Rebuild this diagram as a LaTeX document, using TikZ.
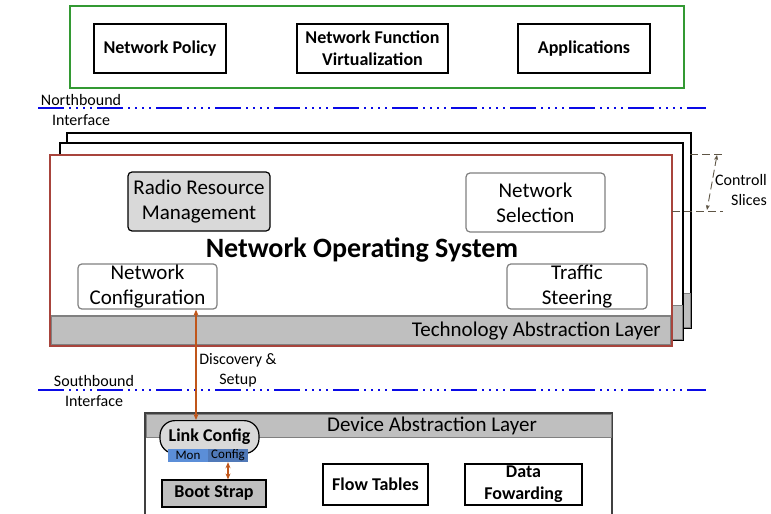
\documentclass[tikz,border=0pt]{standalone}
\usepackage{fontspec}
\setmainfont{Carlito}
\usetikzlibrary{arrows.meta}

\definecolor{appGreen}{HTML}{339933}
\definecolor{nosRed}{HTML}{A8443C}
\definecolor{linkOrange}{HTML}{C0561A}
\definecolor{ifBlue}{HTML}{0A0AE6}
\definecolor{barGray}{HTML}{BFBFBF}
\definecolor{boxGray}{HTML}{D9D9D9}
\definecolor{monBlue}{HTML}{5B8ED8}
\definecolor{cfgBlue}{HTML}{5079B8}
\definecolor{sliceBrown}{HTML}{5E5545}

\def \fsBig {\fontsize{18}{22}\selectfont}
\def \fsReg {\fontsize{21}{25}\selectfont}
\def \fsSmall {\fontsize{16}{20}\selectfont}

\tikzset{
  appbox/.style={draw, line width=1.2pt, minimum width=132pt, minimum height=49pt,
    align=center, inner sep=1pt, font=\bfseries\fsBig},
  nosbox/.style={draw=gray, line width=1.2pt, rounded corners=4pt, fill=white,
    minimum width=139pt, minimum height=59pt, align=center, inner sep=1pt, font=\fsReg},
  devbox/.style={draw, line width=1.2pt, minimum width=105pt, minimum height=41pt,
    align=center, inner sep=1pt, font=\bfseries\fsBig},
  ifline/.style={ifBlue, line width=2.6pt,
    dash pattern=on 26pt off 5pt on 2pt off 5pt on 2pt off 5pt on 2pt off 5pt on 2pt off 5pt},
  biarrow/.style={linkOrange, line width=1.4pt, {Stealth[length=6pt,width=5pt]}-{Stealth[length=6pt,width=5pt]}},
  sliceline/.style={sliceBrown, line width=0.9pt, dash pattern=on 8pt off 4pt},
  lbl/.style={align=center, inner sep=0pt, font=\fsSmall}
}

\begin{document}
\begin{tikzpicture}[x=1pt,y=-1pt]
\useasboundingbox (0,0) rectangle (771,514);

% applications on top
\draw[appGreen, line width=1.4pt] (70,6) rectangle (684,88);
\node[appbox] (policy) at (160,48.5) {Network Policy};
\node[appbox, minimum width=151pt] (nfv) at (372.5,48.5) {Network Function\\Virtualization};
\node[appbox] (apps) at (584,48.5) {Applications};

% northbound interface
\draw[ifline] (38,108) -- (706,108);
\node[lbl] (north) at (81,110) {Northbound\\Interface};

% control slices, back to front
\filldraw[fill=white, line width=1.4pt] (67,133) rectangle (691,328);
\filldraw[fill=barGray, draw=gray] (67,293) rectangle (690,327);
\filldraw[fill=white, line width=1.4pt] (60,143) rectangle (683,340);
\filldraw[fill=barGray, draw=gray] (60,305) rectangle (682,339);
\filldraw[fill=white, draw=nosRed, line width=1.2pt] (50,155) rectangle (672,346);
\filldraw[fill=barGray, draw=gray, line width=1.2pt] (51,316) rectangle (671,345);
\draw[nosRed, line width=1.2pt] (50,155) rectangle (672,346);
\node[anchor=east, inner sep=0pt, font=\fsReg] (tal) at (661,331) {Technology Abstraction Layer};

\node[nosbox, draw=black, fill=boxGray, minimum width=142pt] (rrm) at (199,201.5) {Radio Resource\\Management};
\node[nosbox] (netsel) at (535.5,202.5) {Network\\Selection};
\node[nosbox, minimum height=45pt] (netcfg) at (147.5,286.5) {Network\\Configuration};
\node[nosbox, minimum width=140pt, minimum height=45pt] (traffic) at (577,286.5) {Traffic\\Steering};
\node[inner sep=0pt, font=\bfseries\fontsize{28}{32}\selectfont] (nos) at (362,250) {Network Operating System};

% slices marker
\draw[sliceline] (690,154) -- (723,154);
\draw[sliceline] (672,211) -- (723,211);
\coordinate (slicetop) at (717,155);
\coordinate (slicebot) at (707,210);
\draw[sliceline, {Stealth[length=5pt,width=4pt]}-{Stealth[length=5pt,width=4pt]}] (slicetop) -- (slicebot);
\node[align=right, inner sep=0pt, font=\fsSmall] (slices) at (741,190) {Controll\\Slices};

% southbound interface
\draw[ifline] (38,390) -- (706,390);
\node[lbl] (south) at (94,391) {Southbound\\Interface};

% device side
\draw[line width=1.4pt, draw=darkgray] (145,520) -- (145,413) -- (612,413) -- (612,520);
\filldraw[fill=barGray, draw=gray] (146,414) rectangle (611,437);
\node[font=\fsReg, inner sep=0pt] (dal) at (432,426) {Device Abstraction Layer};

\node[draw, line width=1.2pt, fill=boxGray, rounded corners=15pt, minimum width=99pt,
  minimum height=33pt, inner sep=0pt, font=\bfseries\fsBig, anchor=north] (linkcfg) at (209.5,420) {\raisebox{4pt}{Link Config}};
\node[fill=monBlue, minimum width=40pt, minimum height=13pt, inner sep=0pt,
  font=\fontsize{13}{13}\selectfont] (mon) at (188,455.5) {Mon};
\node[fill=cfgBlue, minimum width=40pt, minimum height=13pt, inner sep=0pt,
  font=\fontsize{13}{13}\selectfont] (cfgcell) at (228,455.5) {Config};

\node[devbox, fill=barGray, minimum width=104pt, minimum height=27pt] (boot) at (214,493.5) {Boot Strap};
\node[devbox] (flow) at (375.5,484.5) {Flow Tables};
\node[devbox, minimum width=117pt] (fwd) at (523.5,484.5) {Data\\Fowarding};

% links
\coordinate (disc) at (196,0);
\draw[biarrow] (netcfg.south -| disc) -- (linkcfg.north -| disc);
\node[lbl] (discovery) at (238,370) {Discovery \&\\Setup};
\draw[biarrow] (cfgcell.south) -- (cfgcell.south |- boot.north);
\end{tikzpicture}
\end{document}
